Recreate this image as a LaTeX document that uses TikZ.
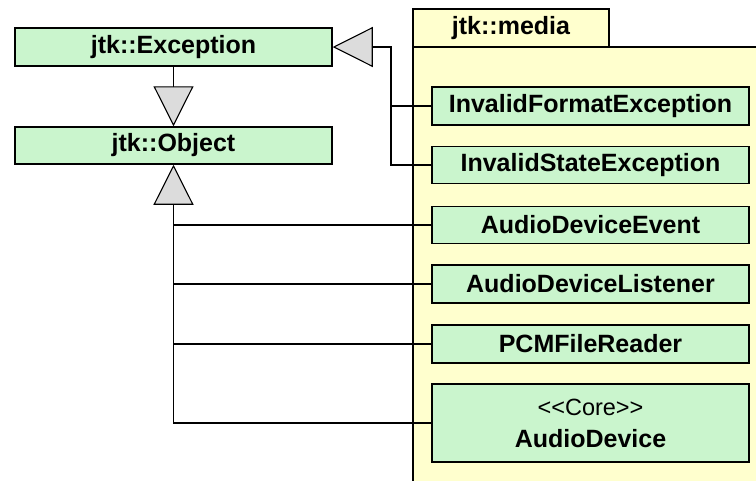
\documentclass[tikz,border=0pt]{standalone}
\usepackage{fontspec}
\setmainfont{Liberation Sans}
\newfontfamily\stereofont{Liberation Sans}[Ligatures=TeXOff]
\usetikzlibrary{arrows.meta}
\definecolor{clsfill}{RGB}{202,245,205}
\definecolor{pkgfill}{RGB}{255,255,206}
\definecolor{tipfill}{RGB}{220,220,220}
\tikzset{
  cls/.style={draw=black, line width=1.5pt, fill=clsfill, minimum width=317pt,
    minimum height=38pt, inner sep=0pt, font=\fontsize{25}{28}\selectfont\bfseries},
  link/.style={draw=black, line width=1.5pt},
  gen/.style={link, -{Triangle[length=40pt, width=40pt, fill=tipfill, line width=1.1pt]}},
}
\begin{document}
\begin{tikzpicture}[x=1pt, y=-1pt]
  \useasboundingbox (0,0) rectangle (756,480);
  \fill[white] (0,0) rectangle (756,480);
  \clip (0,0) rectangle (756,480);

  % package jtk::media
  \draw[line width=1.5pt, fill=pkgfill] (413,47) rectangle (775,495);
  \node[draw=black, line width=1.5pt, fill=pkgfill, minimum width=196pt, minimum height=38pt,
    inner sep=0pt, font=\fontsize{25}{28}\selectfont\bfseries] (pkg) at (511,28) {jtk::media};

  % classes
  \node[cls] (exc) at (173.5,47) {jtk::Exception};
  \node[cls, minimum height=37pt] (obj) at (173.5,145.5) {jtk::Object};
  \node[cls] (ife) at (590.5,106) {InvalidFormatException};
  \node[cls, minimum height=37pt] (ise) at (590.5,165) {InvalidStateException};
  \node[cls, minimum height=37pt] (evt) at (590.5,225) {AudioDeviceEvent};
  \node[cls] (lis) at (590.5,284) {AudioDeviceListener};
  \node[cls] (pcm) at (590.5,344) {PCMFileReader};
  \node[cls, minimum height=78pt, align=center] (dev) at (590.5,423)
    {{\stereofont\fontsize{23.5}{26}\selectfont\mdseries <<Core>>}\\[4pt]AudioDevice};

  % generalisations
  \draw[gen] (exc.south) -- (obj.north);

  \coordinate (bus) at (391,0);
  \draw[gen] (ise.west) -| (bus |- exc.east) -- (exc.east);
  \draw[link] (ife.west) -- (ife.west -| bus);

  \draw[gen] (dev.west) -| (obj.south);
  \draw[link] (evt.west) -- (evt.west -| obj.south);
  \draw[link] (lis.west) -- (lis.west -| obj.south);
  \draw[link] (pcm.west) -- (pcm.west -| obj.south);
\end{tikzpicture}
\end{document}
